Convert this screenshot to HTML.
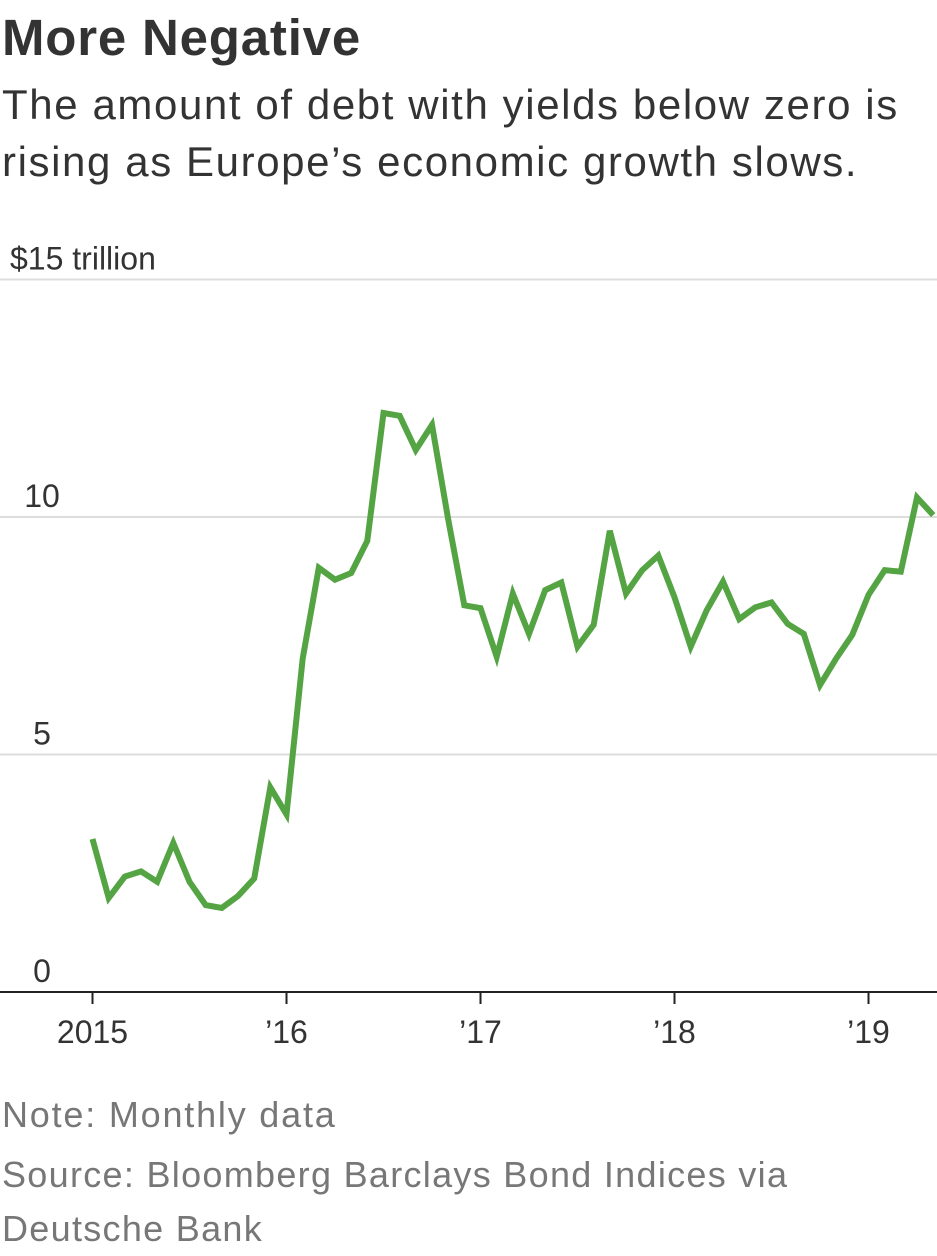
<!DOCTYPE html>
<html><head><meta charset="utf-8"><style>
body{margin:0;width:937px;height:1250px;background:#fff;overflow:hidden;font-family:"Liberation Sans",sans-serif;color:#333}
.t{position:absolute;left:2px;white-space:nowrap}
</style></head><body>
<div class="t" style="top:8px;font-size:51px;font-weight:bold;letter-spacing:0.8px;color:#333">More Negative</div>
<div class="t" style="top:76px;font-size:42px;letter-spacing:1.6px;line-height:57px;color:#333">The amount of debt with yields below zero is<br>rising as Europe’s economic growth slows.</div>
<svg width="937" height="1250" style="position:absolute;left:0;top:0">
<g id="grid"></g><g id="axis"></g><path id="line" fill="none" stroke="#54a444" stroke-width="6" stroke-linejoin="miter"></path>
</svg>
<div class="t" style="top:1094px;font-size:36px;letter-spacing:1.8px;color:#777">Note: Monthly data</div>
<div class="t" style="top:1148px;font-size:36px;letter-spacing:1.3px;line-height:54px;color:#777">Source: Bloomberg Barclays Bond Indices via<br>Deutsche Bank</div>
<script>
const values=[3.22,1.98,2.43,2.54,2.32,3.14,2.32,1.83,1.77,2.02,2.39,4.31,3.74,7.02,8.93,8.68,8.82,9.50,12.19,12.13,11.41,11.94,9.95,8.14,8.08,7.06,8.39,7.54,8.46,8.62,7.27,7.73,9.71,8.39,8.88,9.19,8.31,7.27,8.04,8.64,7.85,8.10,8.20,7.75,7.54,6.46,7.02,7.52,8.36,8.88,8.85,10.41,10.04];
const yTicks=[0,5,10,15];
const yTickLabels=["0","5","10","$15 trillion"];
const xTicks=[2015,2016,2017,2018,2019];
const xTickLabels=["2015","’16","’17","’18","’19"];
const startYear=2015;
const NS="http://www.w3.org/2000/svg";
const y=v=>992-v*47.5;
const x=yr=>92.5+(yr-2015)*194;
const grid=document.getElementById('grid'),axis=document.getElementById('axis');
function mk(tag,attrs,parent){const e=document.createElementNS(NS,tag);for(const k in attrs)e.setAttribute(k,attrs[k]);parent.appendChild(e);return e;}
yTicks.forEach((v,i)=>{
 if(v>0){const l=mk('line',{x1:0,x2:937,y1:y(v),y2:y(v),stroke:'#ddd','stroke-width':2},grid);
 
 }
 const t=mk('text',{x:i==3?10:42,y:y(v)-10,'font-size':32,fill:'#333','text-anchor':i==3?'start':'middle','font-family':'"Liberation Sans Narrow","Liberation Sans",sans-serif'},grid);
 t.textContent=yTickLabels[i];
 
 
});
const ax=mk('line',{x1:0,x2:937,y1:992,y2:992,stroke:'#222','stroke-width':2},axis);


xTicks.forEach((yr,i)=>{
 const tk=mk('line',{x1:x(yr),x2:x(yr),y1:992,y2:1004,stroke:'#222','stroke-width':2},axis);
 
 
 const t=mk('text',{x:x(yr),y:1043,'font-size':32,fill:'#333','text-anchor':'middle','font-family':'"Liberation Sans Narrow","Liberation Sans",sans-serif'},axis);
 t.textContent=xTickLabels[i];
 
 
});
document.getElementById('line').setAttribute('d',values.map((v,i)=>(i?'L':'M')+x(startYear+i/12).toFixed(1)+','+y(v).toFixed(1)).join(''));
</script>
</body></html>
